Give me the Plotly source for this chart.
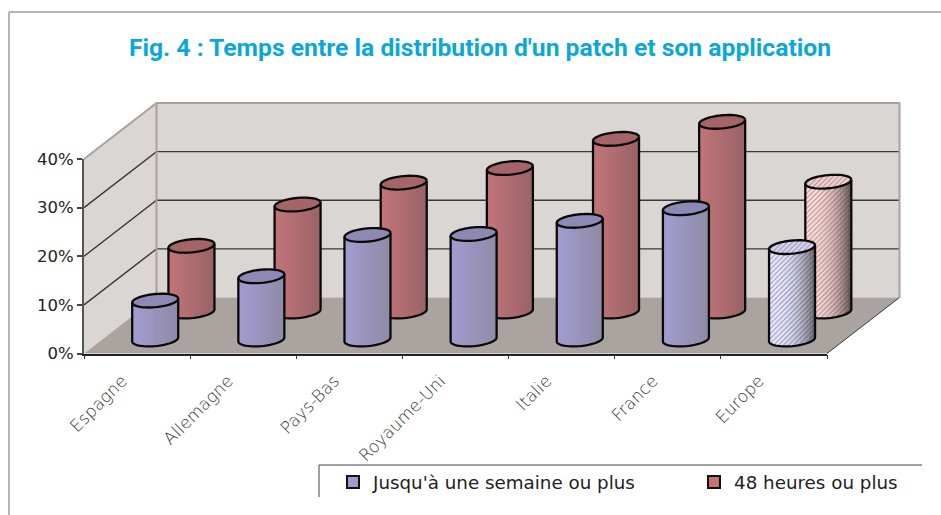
import plotly.graph_objects as go
import numpy as np

categories = ["Espagne", "Allemagne", "Pays-Bas", "Royaume-Uni", "Italie", "France", "Europe"]
week_or_more = [8, 13, 21.5, 21.7, 24.4, 27, 19]
hours48_or_more = [13.5, 22, 26.5, 29.5, 35.5, 39, 26.7]
y_ticks = [0, 10, 20, 30, 40]
y_tick_labels = ["0%", "10%", "20%", "30%", "40%"]
series_names = ["Jusqu'à une semaine ou plus", "48 heures ou plus"]

W, H = 941, 515
X0, X1 = 84, 827
Y0, Y40 = 353.5, 159
n = len(categories)
UX = (X1 - X0) / n
UY = (Y0 - Y40) / 40
DX = 72.5 / UX      # depth shift in category units
DY = 56 / UY        # depth shift in percent units
A = 23 / UX         # cylinder radius (category units)
B = 6.6 / UY        # ellipse height (percent units)
SH = 2 / UY         # slight tilt of the ellipses
N = 16


def proj(cat, val, depth):
    return cat + DX * depth, val + DY * depth


def hex2(c):
    return np.array([int(c[i:i + 2], 16) for i in (1, 3, 5)], float)


def mix(c1, c2, t):
    v = hex2(c1) * (1 - t) + hex2(c2) * t
    return "#%02x%02x%02x" % tuple(int(round(a)) for a in v)


fig = go.Figure()


def poly(xs, ys, fill=None, line=None, lw=1, pattern=None):
    kw = dict(x=xs, y=ys, mode="lines", hoverinfo="skip", showlegend=False, cliponaxis=False)
    kw["line"] = dict(color=line or "rgba(0,0,0,0)", width=lw if line else 0, simplify=False)
    if fill or pattern:
        kw["fill"] = "toself"
        kw["fillcolor"] = fill
    if pattern:
        kw["fillpattern"] = pattern
    fig.add_trace(go.Scatter(**kw))


def quad(pts, **kw):
    pts = list(pts) + [pts[0]]
    poly([p[0] for p in pts], [p[1] for p in pts], **kw)


WALL = "#dad6d3"
FLOOR = "#aba3a0"
EDGE = "#a9a19e"
# walls and floor
quad([proj(0, 0, 1), proj(n, 0, 1), proj(n, 40, 1), proj(0, 40, 1)], fill=WALL)
quad([proj(0, 0, 0), proj(0, 0, 1), proj(0, 40, 1), proj(0, 40, 0)], fill=WALL)
quad([proj(0, 0, 0), proj(n, 0, 0), proj(n, 0, 1), proj(0, 0, 1)], fill=FLOOR)
# grid lines
for v in y_ticks[1:-1]:
    pts = [proj(0, v, 0), proj(0, v, 1), proj(n, v, 1)]
    poly([p[0] for p in pts], [p[1] for p in pts], line="#3c3836", lw=1.4)
# wall edges
pts = [proj(0, 40, 0), proj(0, 40, 1), proj(n, 40, 1), proj(n, 0, 1)]
poly([p[0] for p in pts], [p[1] for p in pts], line=EDGE, lw=2)
pts = [proj(0, 0, 1), proj(0, 40, 1)]
poly([p[0] for p in pts], [p[1] for p in pts], line=EDGE, lw=2)
pts = [proj(n, 0, 0), proj(n, 0, 1)]
poly([p[0] for p in pts], [p[1] for p in pts], line="#3c3836", lw=1)


def cylinder(i, val, depth, c_left, c_right, c_top, hatch=None):
    cx, yb = proj(i + 0.5, 0, depth)
    yt = yb + val
    edges = np.linspace(cx - A, cx + A, N + 1)
    arc = lambda x: B * np.sqrt(np.clip(1 - ((x - cx) / A) ** 2, 0, 1))
    tilt = lambda x: SH * (x - cx) / A
    for k in range(N):
        # every strip runs to the right side, the next one paints over it: no seams
        sx = np.linspace(edges[k], cx + A, N - k + 1)
        frac = k / (N - 1)
        xs = list(sx) + [cx + A, edges[k], edges[k]]
        ys = list(yb - arc(sx) + tilt(sx)) + [yt + SH, yt + tilt(edges[k]), yb - arc(edges[k]) + tilt(edges[k])]
        if hatch:
            col = mix(c_left, c_right, frac ** 2.5)
            bg = mix(hatch[0], hatch[1], frac ** 2.5)
            pat = dict(shape="/", bgcolor=bg, fgcolor=col, size=3.5, solidity=0.35, fillmode="replace")
            poly(xs, ys, fill=bg, pattern=pat)
        else:
            poly(xs, ys, fill=mix(c_left, c_right, frac))
    t = np.linspace(0, 2 * np.pi, 49)
    ex = cx + A * np.cos(t)
    ey = yt + B * np.sin(t) + SH * np.cos(t)
    if hatch:
        poly(list(ex), list(ey), fill=hatch[2],
             pattern=dict(shape="/", bgcolor=hatch[2], fgcolor=c_top, size=3.5, solidity=0.35, fillmode="replace"))
    else:
        poly(list(ex), list(ey), fill=c_top)
    # outline
    tb = np.linspace(np.pi, 2 * np.pi, 25)
    ox = [cx - A] + list(cx + A * np.cos(tb)) + [cx + A, None] + list(ex)
    oy = [yt - SH] + list(yb + B * np.sin(tb) + SH * np.cos(tb)) + [yt + SH, None] + list(ey)
    poly(ox, oy, line="#0a0a0a", lw=2.3)


BLUE = ("#a39bd0", "#8f8ba8", "#8d89b4")
RED = ("#c27478", "#9a6468", "#a46468")
HATCH_BLUE = ("#eeeef8", "#77757f", "#dcdaea")
HATCH_RED = ("#f6e6e6", "#6e5c5c", "#eed8d8")
for i, v in enumerate(hours48_or_more):
    if i == n - 1:
        cylinder(i, v, 0.75, "#d08c8e", "#5e4a4a", "#c08c8c", HATCH_RED)
    else:
        cylinder(i, v, 0.75, *RED)
for i, v in enumerate(week_or_more):
    if i == n - 1:
        cylinder(i, v, 0.25, "#a09cd8", "#55535c", "#9a96c4", HATCH_BLUE)
    else:
        cylinder(i, v, 0.25, *BLUE)

# trace that carries the visible axes
fig.add_trace(go.Scatter(x=[0], y=[0], xaxis="x2", yaxis="y2", mode="none", hoverinfo="skip", showlegend=False))

# legend keys
for name, col, lg in zip(series_names, ["#a39bd0", "#c27478"], ["legend", "legend2"]):
    fig.add_trace(go.Scatter(x=[None], y=[None], mode="markers", name=name, hoverinfo="skip", legend=lg,
                             marker=dict(symbol="square", size=12, color=col,
                                         line=dict(color="#111111", width=1.5))))

legend_style = dict(yanchor="middle", y=1 - 482 / H, bgcolor="rgba(0,0,0,0)", xanchor="left",
                    itemsizing="constant", font=dict(family="DejaVu Sans", size=18.3, color="#222222"))
frame = dict(color="#b4b4b4", width=2)

fig.update_layout(
    width=W, height=H, paper_bgcolor="white", plot_bgcolor="rgba(0,0,0,0)",
    margin=dict(l=0, r=0, t=0, b=0, autoexpand=False), autosize=False,
    font=dict(family="DejaVu Sans", color="#222222"),
    title=dict(text="<b>Fig. 4 : Temps entre la distribution d'un patch et son application</b>",
               x=480 / W, xanchor="center", y=1 - 47 / H, yanchor="middle", automargin=False,
               font=dict(family="Roboto", size=24.7, color="#0aa8da")),
    xaxis=dict(domain=[0, 1], range=[-X0 / UX, (W - X0) / UX], visible=False, automargin=False),
    yaxis=dict(domain=[0, 1], range=[(Y0 - H) / UY, Y0 / UY], visible=False, automargin=False),
    xaxis2=dict(domain=[X0 / W, X1 / W], range=[0, n], anchor="y2", tickmode="array", automargin=False,
                tickvals=[i + 0.5 for i in range(n)], ticktext=categories, tickangle=-45,
                ticks="", showgrid=False, zeroline=False, showline=True, linecolor="#222222", linewidth=1.5,
                tickfont=dict(family="DejaVu Sans Light, DejaVu Sans", size=17, color="#333333"),
                ticklabelstandoff=9, ticklabelshift=-15,
                minor=dict(tickvals=list(range(n + 1)), ticks="outside", ticklen=4, tickcolor="#333333",
                           tickwidth=1, showgrid=False)),
    yaxis2=dict(domain=[1 - Y0 / H, 1 - Y40 / H], range=[0, 40], anchor="x2", tickmode="array", automargin=False,
                tickvals=y_ticks, ticktext=y_tick_labels, ticks="outside", ticklen=5,
                tickcolor="#444444", tickwidth=1.5, showgrid=False, zeroline=False,
                showline=True, linecolor="#555555", linewidth=2,
                tickfont=dict(family="DejaVu Sans", size=16.5, color="#222222")),
    legend=dict(x=333 / W, **legend_style),
    legend2=dict(x=694 / W, **legend_style),
    shapes=[
        dict(type="line", xref="paper", yref="paper", x0=319 / W, x1=922 / W, y0=1 - 465 / H, y1=1 - 465 / H,
             line=dict(color="#444444", width=1.2)),
        dict(type="line", xref="paper", yref="paper", x0=319 / W, x1=319 / W, y0=1 - 465 / H, y1=1 - 497 / H,
             line=dict(color="#444444", width=1)),
        dict(type="line", xref="paper", yref="paper", x0=9 / W, x1=1, y0=1 - 12 / H, y1=1 - 12 / H, line=frame),
        dict(type="line", xref="paper", yref="paper", x0=9 / W, x1=9 / W, y0=1 - 12 / H, y1=0, line=frame),
    ],
)

fig.write_html("out.html", config=dict(displayModeBar=False),
               post_script="document.body.style.margin='0';")
